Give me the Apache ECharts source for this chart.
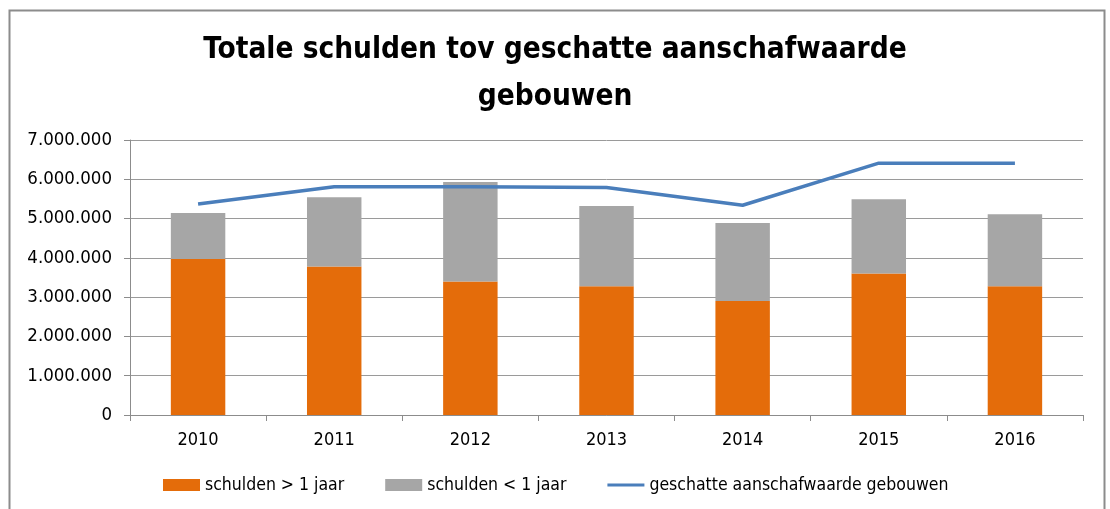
<!DOCTYPE html>
<html>
<head>
<meta charset="UTF-8">
<title>Totale schulden</title>
<script src="https://cdn.jsdelivr.net/npm/echarts@6/dist/echarts.min.js"></script>
<style>
  html, body { margin: 0; padding: 0; background: #fff; }
  #chart { width: 1110px; height: 509px; }
</style>
</head>
<body>
<div id="chart"></div>
<script>
var years = ['2010', '2011', '2012', '2013', '2014', '2015', '2016'];
var langlopend = [3970000, 3780000, 3400000, 3280000, 2900000, 3600000, 3280000];
var kortlopend = [1170000, 1760000, 2530000, 2040000, 1990000, 1890000, 1830000];
var aanschafwaarde = [5370000, 5810000, 5810000, 5790000, 5340000, 6410000, 6410000];

var FONT = "'Liberation Sans Narrow', 'DejaVu Sans Condensed', sans-serif";

function fmt(v) {
    return String(v).replace(/\B(?=(\d{3})+(?!\d))/g, '.');
}

var chart = echarts.init(document.getElementById('chart'));
chart.setOption({
    animation: false,
    title: {
        text: 'Totale schulden tov geschatte aanschafwaarde\ngebouwen',
        left: 'center',
        top: 22,
        textStyle: { fontFamily: FONT, fontSize: 29.5, fontWeight: 'bold', color: '#000', lineHeight: 47 }
    },
    graphic: [{
        type: 'rect',
        shape: { x: 9.5, y: 10.5, width: 1095, height: 510 },
        style: { fill: 'none', stroke: '#8C8C8C', lineWidth: 2 },
        silent: true
    }],
    legend: {
        bottom: 10,
        left: 158,
        itemGap: 41,
        itemWidth: 37,
        itemHeight: 12,
        textStyle: { fontFamily: FONT, fontSize: 17.5, color: '#000' },
        data: [
            { name: 'schulden > 1 jaar', icon: 'rect' },
            { name: 'schulden < 1 jaar', icon: 'rect' },
            { name: 'geschatte aanschafwaarde gebouwen', icon: 'path://M0,0H40V3.5H0Z' }
        ]
    },
    grid: { left: 130, right: 27, top: 140, bottom: 94 },
    xAxis: {
        type: 'category',
        data: years,
        axisLine: { lineStyle: { color: '#8C8C8C' } },
        axisTick: { show: true, length: 6, lineStyle: { color: '#8C8C8C' } },
        axisLabel: { fontFamily: FONT, fontSize: 18, color: '#000', margin: 16 }
    },
    yAxis: {
        type: 'value',
        min: 0,
        max: 7000000,
        interval: 1000000,
        axisLine: { show: true, lineStyle: { color: '#8C8C8C' } },
        axisTick: { show: true, length: 6, lineStyle: { color: '#8C8C8C' } },
        splitLine: { lineStyle: { color: '#9A9A9A' } },
        axisLabel: { fontFamily: FONT, fontSize: 18.5, color: '#000', margin: 18, formatter: fmt }
    },
    series: [
        {
            name: 'schulden > 1 jaar',
            type: 'bar',
            stack: 'schulden',
            barWidth: '40%',
            itemStyle: { color: '#E46C0A' },
            data: langlopend
        },
        {
            name: 'schulden < 1 jaar',
            type: 'bar',
            stack: 'schulden',
            itemStyle: { color: '#A6A6A6' },
            data: kortlopend
        },
        {
            name: 'geschatte aanschafwaarde gebouwen',
            type: 'line',
            symbol: 'none',
            lineStyle: { color: '#4A7EBB', width: 3.5 },
            itemStyle: { color: '#4A7EBB' },
            data: aanschafwaarde
        }
    ]
});
</script>
</body>
</html>
